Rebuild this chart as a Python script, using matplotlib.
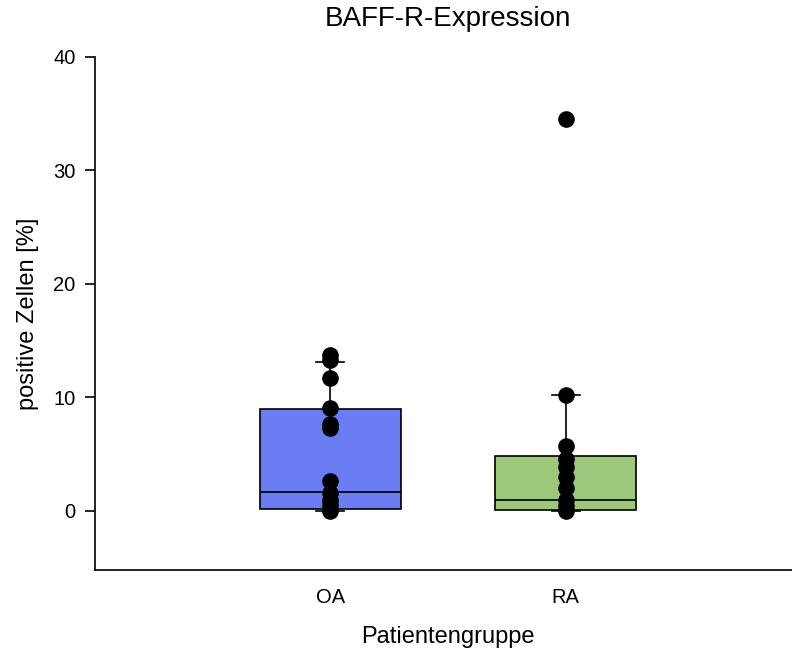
import matplotlib
matplotlib.use("Agg")
import matplotlib.pyplot as plt

plt.rcParams['font.family'] = ['Liberation Sans', 'DejaVu Sans']

groups = ["OA", "RA"]
colors = ["#6a7df2", "#9dc87a"]

oa_points = [13.7, 13.3, 11.7, 9.1, 7.7, 7.3, 2.6, 1.6, 1.0, 0.5, 0.0]
ra_points = [34.5, 10.2, 5.7, 4.6, 3.9, 3.0, 2.0, 1.0, 0.4, 0.0]

q1 = [0.15, 0.1]
med = [1.65, 0.97]
q3 = [9.0, 4.85]
whislo = [0.0, 0.0]
whishi = [13.15, 10.2]

fig = plt.figure(figsize=(7.92, 6.53), dpi=100)
ax = fig.add_axes([95/792, 1-570/653, 706/792, (570-57)/653])

stats = []
for i, g in enumerate(groups):
    stats.append(dict(label=g, q1=q1[i], med=med[i], q3=q3[i],
                      whislo=whislo[i], whishi=whishi[i], fliers=[]))
positions = [1, 2]
bp = ax.bxp(stats, positions=positions, widths=0.6, patch_artist=True,
            showfliers=False,
            boxprops=dict(linewidth=1.2, edgecolor='black'),
            medianprops=dict(color='black', linewidth=1.2),
            whiskerprops=dict(color='black', linewidth=1.2),
            capprops=dict(color='black', linewidth=1.2),
            capwidths=0.12)
for patch, c in zip(bp['boxes'], colors):
    patch.set_facecolor(c)

for pos, pts in zip(positions, [oa_points, ra_points]):
    ax.scatter([pos]*len(pts), pts, s=120, color='black', zorder=5, clip_on=False)

ax.set_xlim(0, 3)
ax.set_ylim(-5.2, 40)
ax.set_yticks([0, 10, 20, 30, 40])
ax.set_xticks(positions)
ax.set_xticklabels(groups)
ax.tick_params(axis='x', length=0, pad=13, labelsize=14.5)
ax.tick_params(axis='y', direction='out', length=7, width=1.2, labelsize=14.5, pad=7)
for s in ['top', 'right']:
    ax.spines[s].set_visible(False)
ax.spines['left'].set_linewidth(1.2)
ax.spines['bottom'].set_linewidth(1.2)

ax.set_title("BAFF-R-Expression", fontsize=20, pad=22)
ax.set_xlabel("Patientengruppe", fontsize=17, labelpad=14)
ax.set_ylabel("positive Zellen [%]", fontsize=17, labelpad=10)

fig.savefig("out.png", dpi=100)
